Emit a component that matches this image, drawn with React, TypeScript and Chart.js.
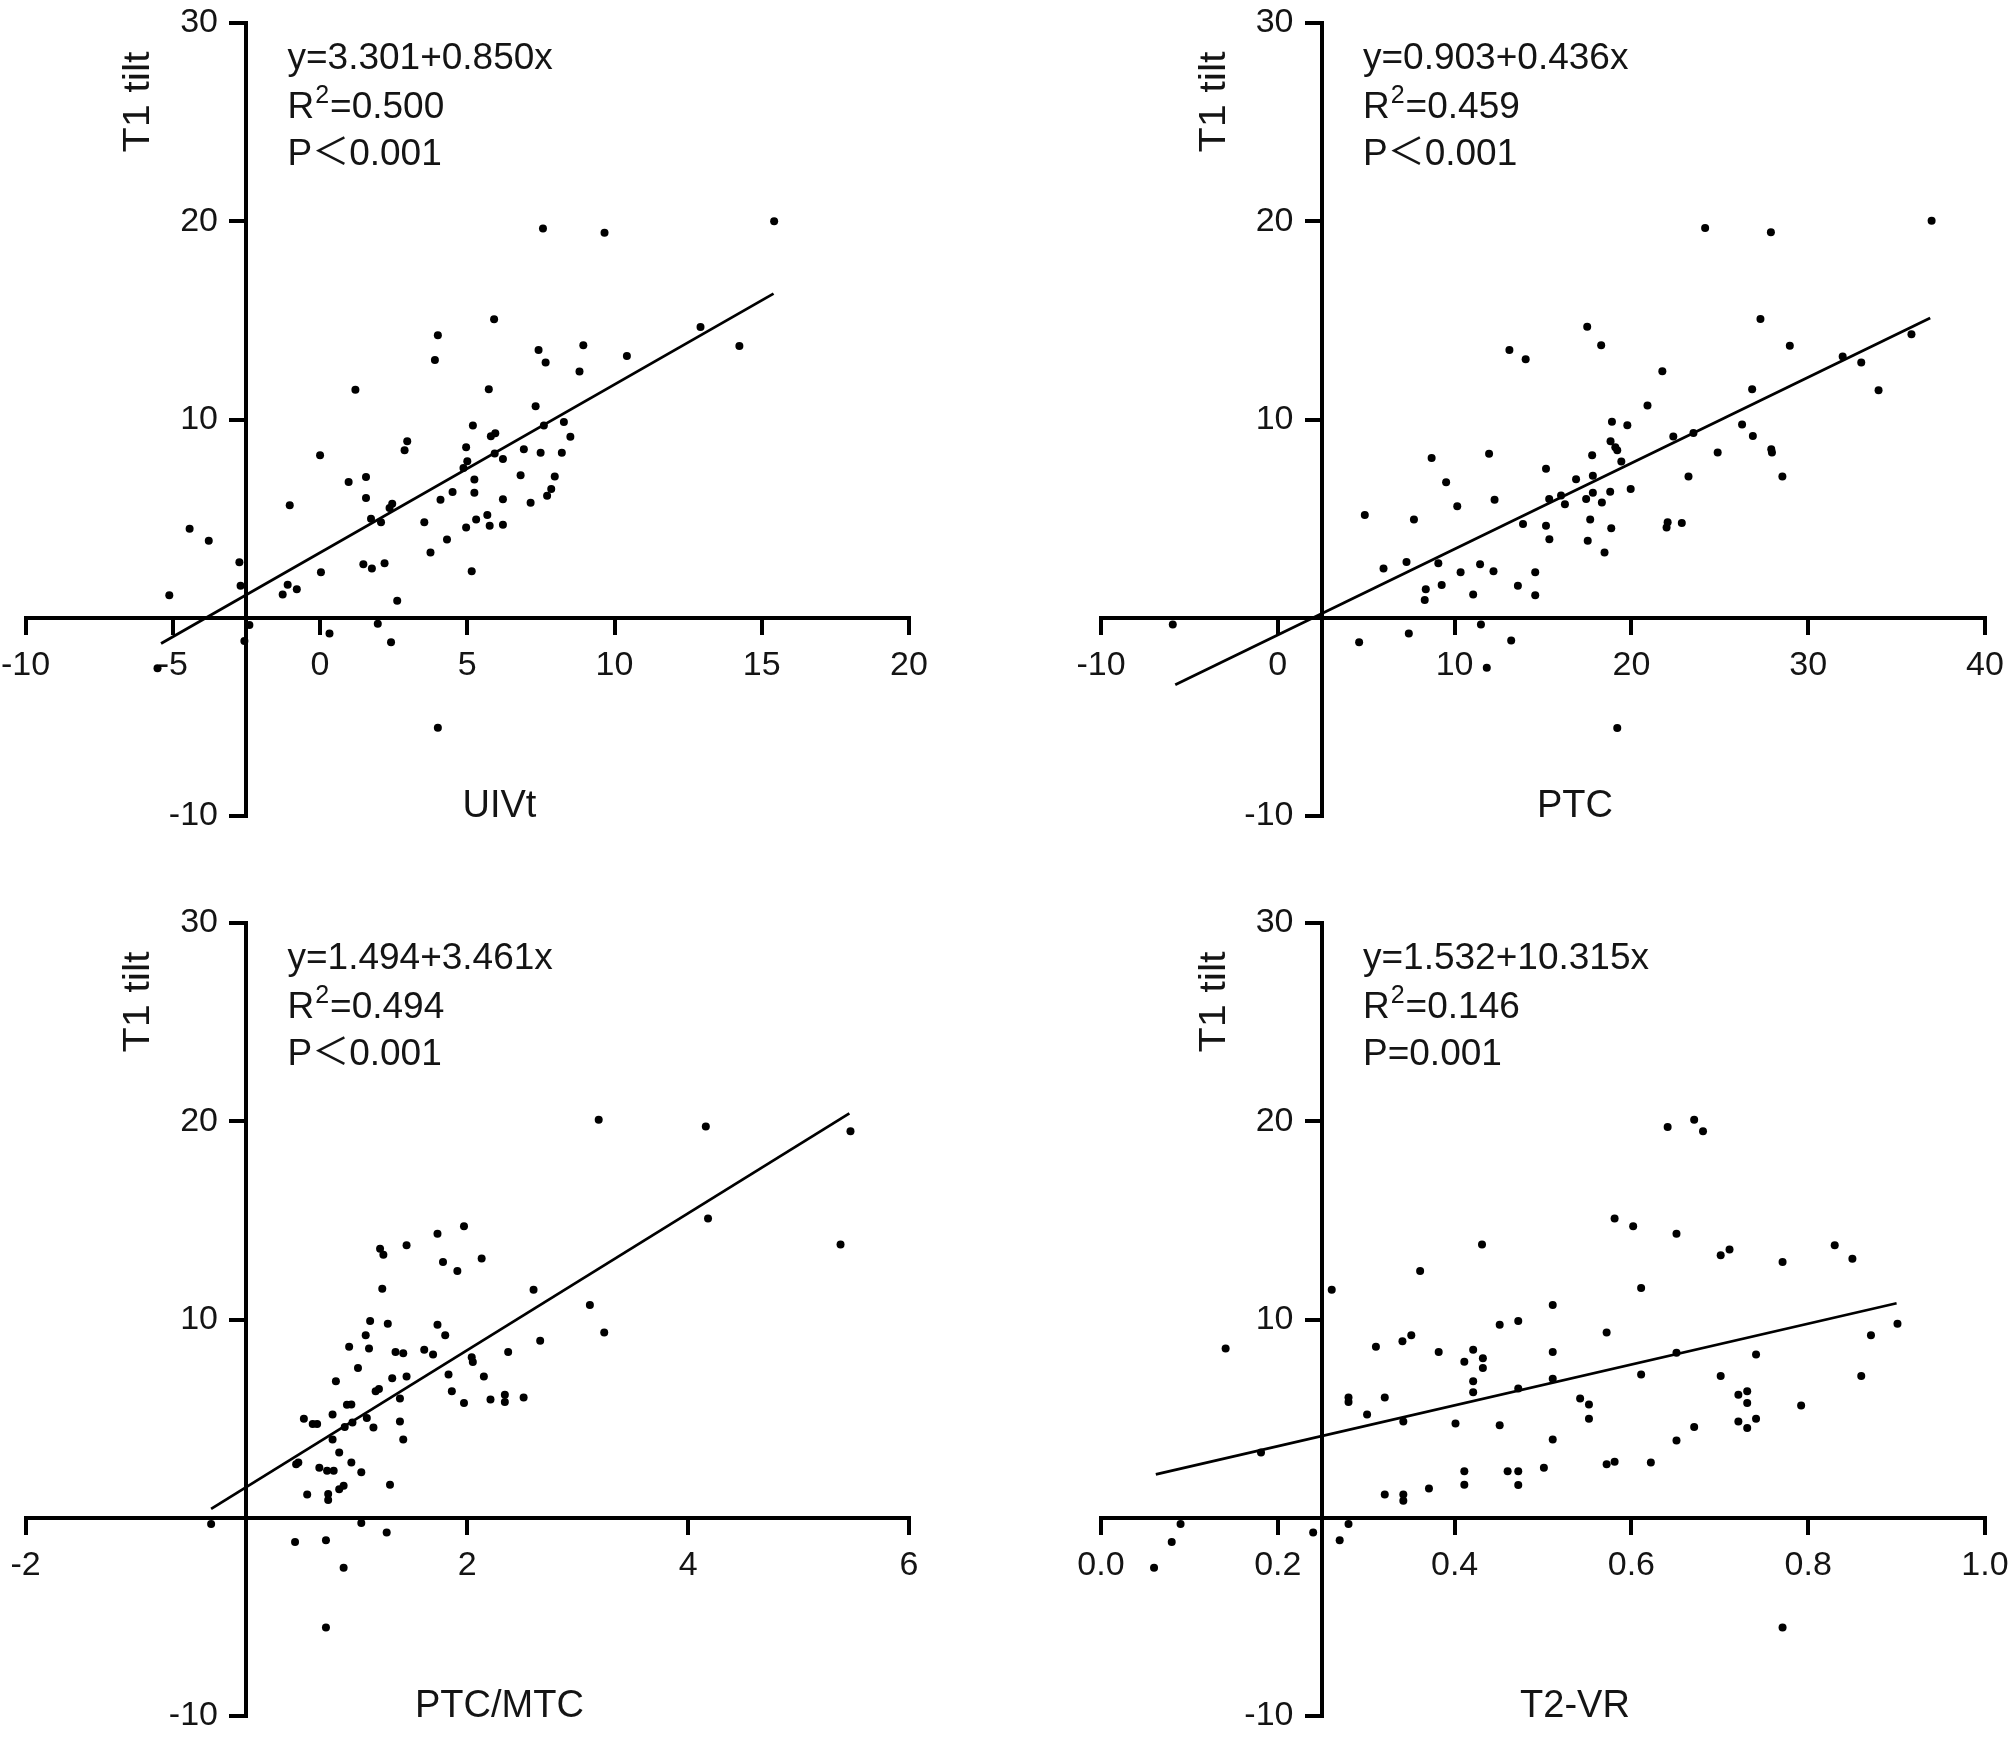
import React, { useEffect, useRef } from "react";
import { Chart, registerables } from "chart.js";

Chart.register(...registerables);

// ---------------- DATA ----------------
// Panel 1: UIVt vs T1 tilt
const uivtX = [4.0, 3.9, 1.2, 5.19, 0.0, 2.96, 2.87, 4.96, 5.0, 4.87, 1.56, 0.97, 5.24, 1.56, 4.5, 5.24, 4.09, 2.45, 2.36, -1.03, 1.73, 2.07, 3.54, 5.3, 4.96, -4.43, -3.78, 4.31, 3.75, 1.47, 1.76, 2.19, 0.03, 5.15, -2.74, -2.7, -1.1, -0.79, -1.27, -5.12, 2.62, -2.4, 1.96, 0.32, 2.41, -2.57, -5.52, 4.0, 7.57, 9.66, 15.42, 5.91, 12.92, 14.24, 7.42, 8.94, 7.66, 10.42, 8.81, 5.73, 7.32, 7.6, 8.28, 5.8, 5.95, 8.5, 5.93, 6.21, 6.92, 7.49, 8.21, 6.81, 7.97, 7.85, 7.71, 6.21, 7.15, 5.68, 5.76, 6.21];
const uivtY = [14.25, 13.0, 11.5, 9.7, 8.2, 8.9, 8.45, 8.6, 7.9, 7.55, 7.1, 6.85, 6.97, 6.04, 6.34, 6.3, 5.95, 5.75, 5.53, 5.68, 5.0, 4.82, 4.82, 4.96, 4.55, 4.49, 3.88, 3.95, 3.29, 2.7, 2.48, 2.75, 2.3, 2.35, 2.8, 1.62, 1.67, 1.44, 1.17, 1.13, 0.86, -0.36, -0.3, -0.8, -1.24, -1.17, -2.55, -5.55, 19.64, 19.42, 20.0, 15.06, 14.66, 13.71, 13.5, 13.75, 12.87, 13.2, 12.42, 11.52, 10.67, 9.7, 9.88, 9.16, 9.31, 9.13, 8.28, 8.01, 8.5, 8.32, 8.32, 7.19, 7.12, 6.49, 6.16, 5.98, 5.8, 5.18, 4.64, 4.69];
const uivtLineX = [-5.4, 15.4];
const uivtLineY = [-1.3, 16.35];

// Panel 2: PTC vs T1 tilt
const ptcX = [13.1, 14.02, 8.7, 11.95, 15.17, 9.52, 10.15, 12.26, 4.92, 7.7, 13.87, 15.17, 15.36, 5.98, 7.28, 9.08, 10.34, 11.44, 12.2, 14.56, 8.37, 9.27, 11.05, 13.58, 14.56, 8.31, -5.94, 11.49, 4.6, 7.41, 13.2, 11.82, 24.17, 27.89, 36.98, 17.5, 18.29, 27.3, 28.96, 21.75, 31.95, 33.0, 35.84, 26.83, 33.98, 20.91, 18.9, 19.77, 26.26, 23.51, 22.37, 26.87, 18.82, 19.09, 19.2, 27.91, 27.95, 24.88, 19.43, 17.78, 16.87, 17.82, 23.23, 28.54, 15.35, 16.02, 16.24, 17.44, 17.82, 18.33, 18.8, 19.96, 17.67, 18.86, 17.53, 18.48, 22.05, 21.99, 22.85, 19.2];
const ptcY = [13.5, 13.04, 8.06, 8.27, 7.52, 6.83, 5.63, 5.95, 5.18, 4.96, 4.73, 4.64, 3.96, 2.48, 2.81, 2.75, 2.3, 2.7, 2.34, 2.3, 1.44, 1.65, 1.17, 1.62, 1.13, 0.9, -0.34, -0.34, -1.24, -0.79, -1.15, -2.52, 19.66, 19.44, 20.02, 14.68, 13.74, 15.07, 13.72, 12.43, 13.18, 12.88, 14.3, 11.53, 11.47, 10.7, 9.89, 9.71, 9.75, 9.32, 9.14, 9.17, 8.9, 8.6, 8.45, 8.5, 8.33, 8.33, 7.88, 8.2, 6.98, 7.16, 7.12, 7.12, 5.99, 6.17, 5.72, 5.99, 6.31, 5.81, 6.35, 6.49, 4.96, 4.51, 3.88, 3.29, 4.82, 4.55, 4.78, -5.56];
const ptcLineX = [-5.8, 36.9];
const ptcLineY = [-3.38, 15.12];

// Panel 3: PTC/MTC vs T1 tilt
const ratioX = [1.97, 1.73, 1.45, 1.21, 1.24, 1.78, 2.13, 1.91, 1.23, 2.6, 1.12, 1.28, 1.73, 1.08, 1.8, 0.93, 1.11, 1.35, 1.42, 1.61, 1.69, 2.37, 2.66, 2.04, 2.05, 1.01, 0.81, 1.32, 1.45, 1.83, 2.15, 1.17, 1.2, 1.39, 1.86, 1.97, 2.21, 2.34, 2.34, 2.51, 0.91, 0.95, 0.78, 0.52, 0.6, 0.64, 0.89, 0.96, 1.09, 1.15, 1.39, 0.78, 1.42, 0.84, 0.47, 0.45, 0.66, 0.73, 0.79, 0.95, 1.04, 1.3, 0.55, 0.74, 0.74, 0.84, 0.88, -0.32, 1.04, 1.27, 0.44, 0.72, 0.88, 0.72, 3.19, 4.16, 5.47, 4.18, 5.38, 3.11, 3.24];
const ratioY = [14.7, 14.32, 13.75, 13.57, 13.26, 12.9, 13.08, 12.45, 11.55, 11.5, 9.92, 9.79, 9.74, 9.2, 9.2, 8.63, 8.54, 8.36, 8.3, 8.48, 8.23, 8.36, 8.93, 8.09, 7.85, 7.55, 6.88, 7.04, 7.13, 7.22, 7.13, 6.38, 6.5, 6.02, 6.38, 5.79, 5.97, 6.2, 5.84, 6.06, 5.7, 5.71, 5.21, 5.0, 4.73, 4.73, 4.58, 4.8, 5.03, 4.55, 4.85, 3.95, 3.95, 3.29, 2.79, 2.7, 2.52, 2.37, 2.37, 2.79, 2.3, 1.67, 1.17, 1.2, 0.9, 1.44, 1.62, -0.31, -0.27, -0.75, -1.22, -1.13, -2.52, -5.53, 20.07, 19.73, 19.5, 15.09, 13.78, 10.73, 9.34];
const ratioLineX = [-0.32, 5.46];
const ratioLineY = [0.45, 20.4];

// Panel 4: T2-VR vs T1 tilt
const vrX = [0.431, 0.361, 0.261, 0.141, 0.311, 0.341, 0.351, 0.382, 0.411, 0.421, 0.432, 0.432, 0.421, 0.421, 0.451, 0.472, 0.472, 0.28, 0.28, 0.321, 0.301, 0.342, 0.401, 0.451, 0.181, 0.411, 0.411, 0.46, 0.472, 0.472, 0.371, 0.321, 0.342, 0.342, 0.09, 0.28, 0.08, 0.24, 0.27, 0.06, 0.641, 0.671, 0.681, 0.581, 0.602, 0.651, 0.701, 0.711, 0.771, 0.83, 0.85, 0.611, 0.511, 0.572, 0.511, 0.651, 0.741, 0.901, 0.871, 0.86, 0.511, 0.611, 0.701, 0.542, 0.552, 0.552, 0.721, 0.731, 0.731, 0.792, 0.721, 0.731, 0.741, 0.671, 0.511, 0.651, 0.501, 0.572, 0.581, 0.622, 0.771];
const vrY = [13.78, 12.45, 11.5, 8.54, 8.63, 8.9, 9.2, 8.36, 7.87, 8.48, 8.05, 7.55, 6.88, 6.33, 9.74, 9.92, 6.52, 6.06, 5.84, 6.07, 5.21, 4.85, 4.76, 4.67, 3.29, 2.34, 1.67, 2.34, 2.34, 1.65, 1.47, 1.17, 1.17, 0.86, -0.31, -0.31, -1.22, -0.75, -1.13, -2.52, 19.71, 20.07, 19.5, 15.09, 14.7, 14.32, 13.24, 13.53, 12.9, 13.75, 13.06, 11.59, 10.73, 9.34, 8.36, 8.32, 8.23, 9.79, 9.2, 7.15, 7.01, 7.22, 7.15, 6.02, 5.71, 5.0, 6.2, 6.38, 5.79, 5.66, 4.85, 4.53, 5.0, 4.58, 3.95, 3.9, 2.52, 2.7, 2.82, 2.79, -5.53];
const vrLineX = [0.062, 0.9];
const vrLineY = [2.19, 10.82];

// Tick values and labels
const yTickValues = [-10, 0, 10, 20, 30];
const yTickLabels = ["-10", "", "10", "20", "30"];
const uivtTickValues = [-10, -5, 0, 5, 10, 15, 20];
const uivtTickLabels = ["-10", "-5", "0", "5", "10", "15", "20"];
const ptcTickValues = [-10, 0, 10, 20, 30, 40];
const ptcTickLabels = ["-10", "0", "10", "20", "30", "40"];
const ratioTickValues = [-2, 0, 2, 4, 6];
const ratioTickLabels = ["-2", "", "2", "4", "6"];
const vrTickValues = [0, 0.2, 0.4, 0.6, 0.8, 1.0];
const vrTickLabels = ["0.0", "0.2", "0.4", "0.6", "0.8", "1.0"];

const yTitle = "T1 tilt";
const xTitles = ["UIVt", "PTC", "PTC/MTC", "T2-VR"];
const equations = ["y=3.301+0.850x", "y=0.903+0.436x", "y=1.494+3.461x", "y=1.532+10.315x"];
const r2Values = ["=0.500", "=0.459", "=0.494", "=0.146"];
const pValues = ["P＜0.001", "P＜0.001", "P＜0.001", "P=0.001"];

// ---------------- STYLE / LAYOUT ----------------
const FONT = '"Liberation Sans", Arial, "Noto Sans CJK SC", sans-serif';
const TEXT = "#141414";
const TICK_LEN = 15;

type Spec = {
  xs: number[]; ys: number[]; lx: number[]; ly: number[];
  xMin: number; xMax: number; xTicks: number[]; xLabels: string[];
  yAxisAt: number; idx: number;
  left: number; top: number; width: number; height: number;
  pad: { left: number; right: number; top: number; bottom: number };
};

const specs: Spec[] = [
  { xs: uivtX, ys: uivtY, lx: uivtLineX, ly: uivtLineY, xMin: -10, xMax: 20, xTicks: uivtTickValues, xLabels: uivtTickLabels, yAxisAt: -2.5, idx: 0,
    left: -40, top: -40, width: 1044, height: 908, pad: { left: 65.6, right: 95, top: 63, bottom: 52 } },
  { xs: ptcX, ys: ptcY, lx: ptcLineX, ly: ptcLineY, xMin: -10, xMax: 40, xTicks: ptcTickValues, xLabels: ptcTickLabels, yAxisAt: 2.5, idx: 1,
    left: 1004, top: -40, width: 1046, height: 908, pad: { left: 97, right: 65, top: 63, bottom: 52 } },
  { xs: ratioX, ys: ratioY, lx: ratioLineX, ly: ratioLineY, xMin: -2, xMax: 6, xTicks: ratioTickValues, xLabels: ratioTickLabels, yAxisAt: 0, idx: 2,
    left: -40, top: 868, width: 1044, height: 912, pad: { left: 65.6, right: 95, top: 55, bottom: 64 } },
  { xs: vrX, ys: vrY, lx: vrLineX, ly: vrLineY, xMin: 0, xMax: 1, xTicks: vrTickValues, xLabels: vrTickLabels, yAxisAt: 0.25, idx: 3,
    left: 1004, top: 868, width: 1046, height: 912, pad: { left: 97, right: 65, top: 55, bottom: 64 } },
];

function textPlugin(spec: Spec) {
  return {
    id: "panelText" + spec.idx,
    beforeDraw(chart: any) {
      // place tick labels next to the crossing axes
      const ax = chart.scales.x.getPixelForValue(spec.yAxisAt);
      const ay = chart.scales.y.getPixelForValue(0);
      const yItems = chart.scales.y.getLabelItems();
      yItems.forEach((it: any) => { it.options.translation[0] = ax - 28.5; it.options.textAlign = "right"; });
      const xItems = chart.scales.x.getLabelItems();
      xItems.forEach((it: any) => { it.options.translation[1] = ay + 27; });
    },
    afterDraw(chart: any) {
      const { ctx, chartArea } = chart;
      const ax = chart.scales.x.getPixelForValue(spec.yAxisAt);
      const top = chartArea.top;
      ctx.save();
      ctx.fillStyle = TEXT;
      ctx.textBaseline = "middle";
      ctx.textAlign = "left";
      const x0 = ax + 41;
      ctx.font = `37px ${FONT}`;
      ctx.fillText(equations[spec.idx], x0, top + 36);
      const yR = top + 85;
      ctx.fillText("R", x0, yR);
      const rw = ctx.measureText("R").width;
      ctx.font = `25px ${FONT}`;
      ctx.fillText("2", x0 + rw + 1, yR - 12);
      const sw = ctx.measureText("2").width;
      ctx.font = `37px ${FONT}`;
      ctx.fillText(r2Values[spec.idx], x0 + rw + sw + 2, yR);
      ctx.fillText(pValues[spec.idx], x0, top + 132);
      ctx.font = `38px ${FONT}`;
      ctx.textAlign = "center";
      ctx.fillText(xTitles[spec.idx], ax + 253, top + 784);
      ctx.translate(ax - 107, top + 79);
      ctx.rotate(-Math.PI / 2);
      ctx.scale(1.15, 1);
      ctx.font = `36px ${FONT}`;
      ctx.fillText(yTitle, 0, 0);
      ctx.restore();
    },
  };
}

function Panel({ spec }: { spec: Spec }) {
  const ref = useRef<HTMLCanvasElement>(null);
  useEffect(() => {
    const pts = spec.xs.map((x, i) => ({ x, y: spec.ys[i] }));
    const line = spec.lx.map((x, i) => ({ x, y: spec.ly[i] }));
    const tickFont = { family: FONT, size: 34 };
    const chart = new Chart(ref.current as HTMLCanvasElement, {
      type: "scatter",
      data: {
        datasets: [
          { data: pts, pointRadius: 4, pointBackgroundColor: "#000", pointBorderWidth: 0, pointHoverRadius: 4 },
          { data: line, showLine: true, borderColor: "#000", borderWidth: 2.8, pointRadius: 0, pointHoverRadius: 0 } as any,
        ],
      },
      options: {
        animation: false,
        responsive: false,
        devicePixelRatio: 1,
        events: [],
        layout: { padding: spec.pad },
        plugins: { legend: { display: false }, tooltip: { enabled: false } },
        scales: {
          x: {
            type: "linear",
            min: spec.xMin,
            max: spec.xMax,
            position: { y: 0 } as any,
            afterBuildTicks: (s: any) => { s.ticks = spec.xTicks.map((v) => ({ value: v })); },
            ticks: {
              font: tickFont, color: TEXT, padding: 0, maxRotation: 0, autoSkip: false,
              callback: (_v: any, i: number) => spec.xLabels[i],
            },
            grid: { drawOnChartArea: false, drawTicks: true, tickLength: TICK_LEN, lineWidth: 4, color: "#000" },
            border: { display: true, color: "#000", width: 4 },
          },
          y: {
            type: "linear",
            min: -10,
            max: 30,
            position: { x: spec.yAxisAt } as any,
            afterBuildTicks: (s: any) => { s.ticks = yTickValues.map((v) => ({ value: v })); },
            ticks: {
              font: tickFont, color: TEXT, padding: 0, autoSkip: false,
              callback: (_v: any, i: number) => yTickLabels[i],
            },
            grid: { drawOnChartArea: false, drawTicks: true, tickLength: TICK_LEN, lineWidth: 4, color: "#000" },
            border: { display: true, color: "#000", width: 4 },
          },
        },
      },
      plugins: [textPlugin(spec)],
    } as any);
    return () => chart.destroy();
  }, [spec]);
  return (
    <canvas
      ref={ref}
      width={spec.width}
      height={spec.height}
      style={{ position: "absolute", left: spec.left, top: spec.top, width: spec.width, height: spec.height }}
    />
  );
}

export default function App() {
  return (
    <div style={{ position: "absolute", left: 0, top: 0, width: 2008, height: 1737, background: "#fff", overflow: "hidden" }}>
      {specs.map((s) => (
        <Panel key={s.idx} spec={s} />
      ))}
    </div>
  );
}
